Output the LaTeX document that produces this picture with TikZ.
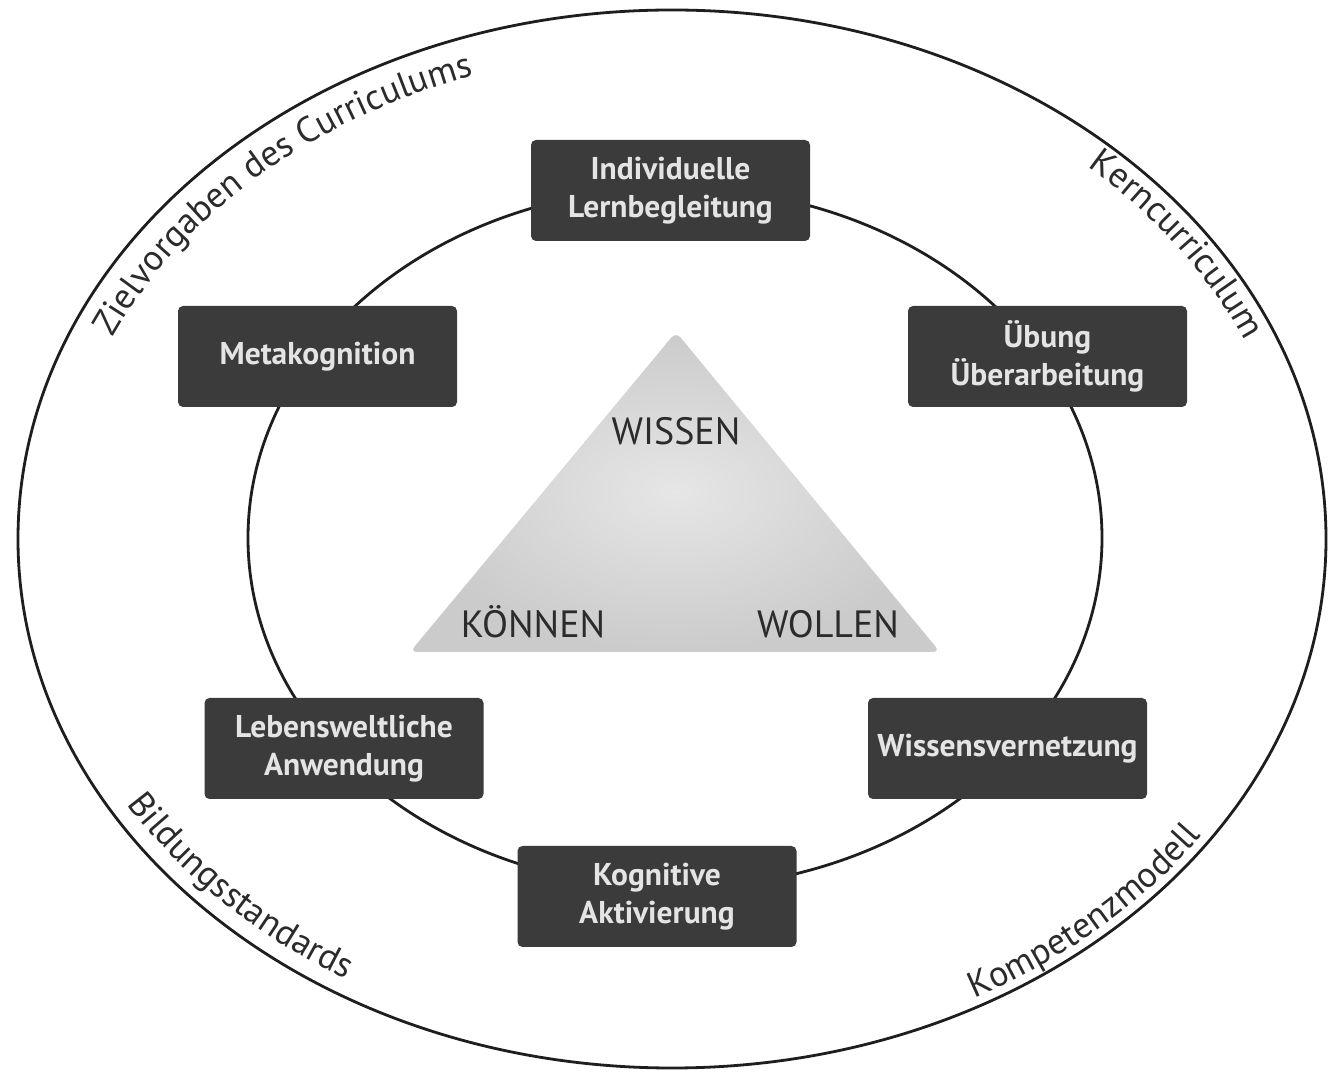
\documentclass[tikz,border=0pt]{standalone}
\usepackage{fontspec}
\setmainfont{PT Sans}
\usetikzlibrary{decorations.text}
\definecolor{boxfill}{HTML}{3B3B3B}
\definecolor{boxtext}{HTML}{E4E4E4}
\definecolor{ink}{HTML}{1E1E1E}
\definecolor{labelink}{HTML}{2B2B2B}
\definecolor{triin}{HTML}{E6E6E6}
\definecolor{triout}{HTML}{CBCBCB}
\newcommand\stagefont{\fontsize{31.5}{38}\selectfont\bfseries}
\newcommand\corefont{\fontsize{38}{44}\selectfont}
\newcommand\arcfont{\fontsize{36}{40}\selectfont}

\begin{document}
\begin{tikzpicture}[x=1pt,y=1pt,
  ring/.style={draw=ink, line width=2.8pt},
  stage/.style={rectangle, rounded corners=5pt, fill=boxfill, text=boxtext,
    align=center, font=\stagefont, minimum width=279pt, minimum height=101pt,
    inner sep=0pt},
  core/.style={text=labelink, font=\corefont, inner sep=0pt, anchor=base},
  arclabel/.style={decorate, decoration={text along path, text align=center,
    text color=labelink, text={|\arcfont|#1}}}
]
\fill[white] (0,0) rectangle (1328,1071);
\useasboundingbox (0,0) rectangle (1328,1071);

% outer frame and inner cycle
\draw[ring] (672,532) ellipse [x radius=654pt, y radius=529pt];
\draw[ring] (675,533) ellipse [x radius=427pt, y radius=350pt];

% labels running along the outer frame
\path[arclabel={Zielvorgaben des Curriculums}]
  (672,532) ++(180:614pt and 490pt)
  arc[start angle=180, end angle=89, x radius=614pt, y radius=490pt];
\path[arclabel={Kerncurriculum}]
  (672,532) ++(60:624pt and 499pt)
  arc[start angle=60, end angle=10, x radius=624pt, y radius=499pt];
\path[arclabel={Bildungsstandards}]
  (672,532) ++(200:637pt and 512pt)
  arc[start angle=200, end angle=249, x radius=637pt, y radius=512pt];
\path[arclabel={Kompetenzmodell}]
  (672,532) ++(291:645pt and 520pt)
  arc[start angle=291, end angle=333, x radius=645pt, y radius=520pt];

% stages on the cycle
\node[stage] (lernbegleitung) at (670.5,880.5) {Individuelle\\Lernbegleitung};
\node[stage] (metakognition) at (317.5,714.5) {Metakognition};
\node[stage] (uebung) at (1047.5,714.5) {Übung\\Überarbeitung};
\node[stage] (anwendung) at (344,322.5) {Lebensweltliche\\Anwendung};
\node[stage] (vernetzung) at (1007.5,322.5) {Wissensvernetzung};
\node[stage] (aktivierung) at (657,174.5) {Kognitive\\Aktivierung};

% central triangle
\shade[inner color=triin, outer color=triout, rounded corners=7pt]
  (676,739) -- (940,419) -- (410,419) -- cycle;
\node[core] (wissen) at (676,626) {WISSEN};
\node[core] (koennen) at (533,433) {KÖNNEN};
\node[core] (wollen) at (828,433) {WOLLEN};
\end{tikzpicture}
\end{document}
